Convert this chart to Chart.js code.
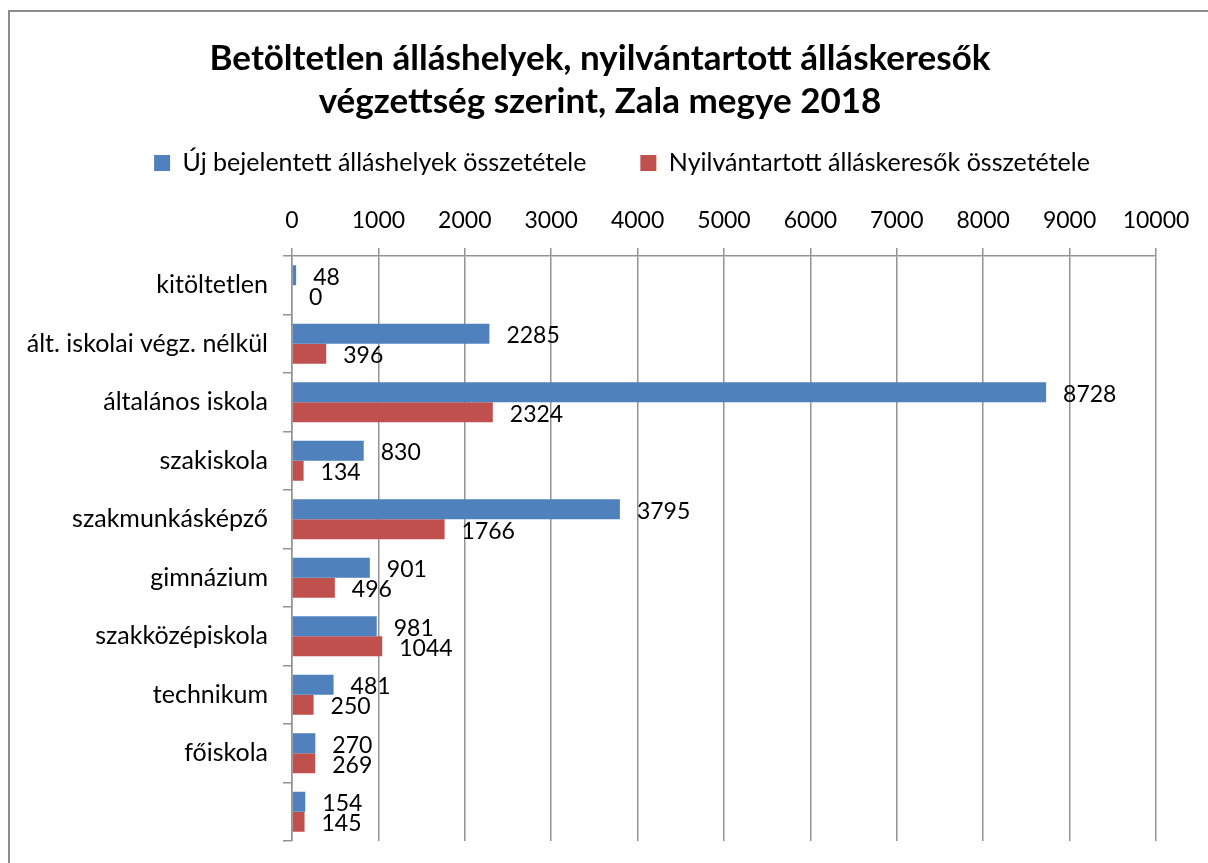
<!DOCTYPE html>
<html>
<head>
<meta charset="utf-8">
<title>Betöltetlen álláshelyek, Zala megye 2018</title>
<script src="https://cdn.jsdelivr.net/npm/chart.js@4"></script>
<style>
  html, body { margin: 0; padding: 0; background: #fff; }
  #wrap { position: relative; width: 1208px; height: 863px; overflow: hidden; }
  #frame {
    position: absolute; left: 8px; top: 10px; width: 1400px; height: 1000px;
    border-left: 2px solid #8c8c8c; border-top: 2px solid #8c8c8c;
    pointer-events: none;
  }
</style>
</head>
<body>
<div id="wrap">
  <canvas id="vegzettseg-chart" width="1208" height="863"></canvas>
  <div id="frame"></div>
</div>
<script>
// canvas and context
let canvas = document.querySelector('#vegzettseg-chart')
let context = canvas.getContext('2d')

// data
let categories = [
    'kitöltetlen',
    'ált. iskolai végz. nélkül',
    'általános iskola',
    'szakiskola',
    'szakmunkásképző',
    'gimnázium',
    'szakközépiskola',
    'technikum',
    'főiskola',
    ''
]
let ujAllashelyek = [48, 2285, 8728, 830, 3795, 901, 981, 481, 270, 154]
let allaskeresok = [0, 396, 2324, 134, 1766, 496, 1044, 250, 269, 145]
let xTicks = [0, 1000, 2000, 3000, 4000, 5000, 6000, 7000, 8000, 9000, 10000]

let gridGray = '#939393'
Chart.defaults.font.family = 'Lato'
Chart.defaults.color = '#000'

// value labels to the right of each bar end
let barValues = {
    id: 'barValues',
    afterDatasetsDraw(chart) {
        let ctx = chart.ctx
        ctx.save()
        ctx.font = '23px Lato'
        ctx.fillStyle = '#000'
        ctx.textAlign = 'left'
        ctx.textBaseline = 'middle'
        chart.data.datasets.forEach(function(ds, i) {
            chart.getDatasetMeta(i).data.forEach(function(bar, j) {
                ctx.fillText(String(ds.data[j]), bar.x + 17, bar.y + 2)
            })
        })
        ctx.restore()
    }
}

// create chart
let chart = new Chart(context, {
    type: 'bar',
    data: {
        labels: categories,
        datasets: [
            {
                label: 'Új bejelentett álláshelyek összetétele',
                data: ujAllashelyek,
                backgroundColor: '#4f81bd',
                barPercentage: 1,
                categoryPercentage: 0.684
            },
            {
                label: 'Nyilvántartott álláskeresők összetétele',
                data: allaskeresok,
                backgroundColor: '#c0504d',
                barPercentage: 1,
                categoryPercentage: 0.684
            }
        ]
    },
    options: {
        indexAxis: 'y',
        responsive: false,
        animation: false,
        layout: { padding: { left: 0, right: 8, top: 0, bottom: 22 } },
        plugins: {
            title: {
                display: true,
                text: ['Betöltetlen álláshelyek, nyilvántartott álláskeresők',
                       'végzettség szerint, Zala megye 2018'],
                font: { size: 35, weight: 'bold', lineHeight: 1.23 },
                color: '#000',
                padding: { top: 37.5, bottom: 17 }
            },
            legend: {
                position: 'top',
                align: 'end',
                labels: {
                    font: { size: 25 },
                    boxWidth: 16,
                    boxHeight: 16,
                    padding: 10,
                    color: '#000',
                    generateLabels(chart) {
                        let items = Chart.defaults.plugins.legend.labels.generateLabels(chart)
                        // spacing between the entries and after the last one
                        items[0].text += '\u2003\u2003 '
                        items[1].text += '\u2003\u2003\u2003\u2003\u2003 '
                        return items
                    }
                }
            },
            tooltip: { enabled: false }
        },
        scales: {
            x: {
                position: 'top',
                min: 0,
                max: 10000,
                afterBuildTicks(scale) {
                    scale.ticks = xTicks.map(v => ({ value: v }))
                },
                afterFit(scale) {
                    scale.height = 70.4
                    scale.paddingLeft = 0
                    scale.paddingRight = 52
                },
                ticks: {
                    font: { size: 23 },
                    padding: 14,
                    color: '#000',
                    callback: v => String(v)
                },
                grid: { color: gridGray, lineWidth: 1.5, tickLength: 8 },
                border: { color: gridGray, width: 1.5 }
            },
            y: {
                afterFit(scale) {
                    scale.width = 292
                    scale.paddingTop = 0
                    scale.paddingBottom = 0
                },
                ticks: { font: { size: 25 }, padding: 15, color: '#000' },
                grid: { drawOnChartArea: false, color: gridGray, lineWidth: 1.5, tickLength: 9 },
                border: { color: gridGray, width: 1.5 }
            }
        }
    },
    plugins: [barValues]
})
</script>
</body>
</html>
